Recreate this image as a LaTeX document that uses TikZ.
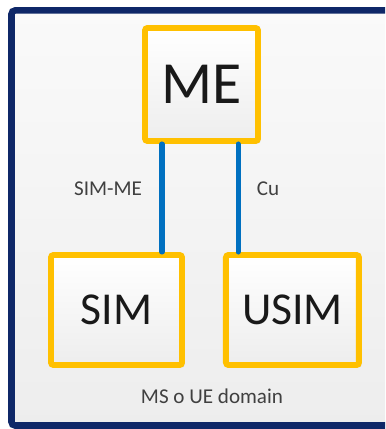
\documentclass[tikz,border=0pt]{standalone}
\usepackage{fontspec}
\setmainfont{Carlito}
\usetikzlibrary{positioning,calc,shadows}

\definecolor{frameblue}{HTML}{0F2868}
\definecolor{boxgold}{HTML}{FFC000}
\definecolor{linkblue}{HTML}{0070C0}
\definecolor{labgray}{HTML}{404040}

\begin{document}
\begin{tikzpicture}[
  backdrop/.style={top color=white!98!black, bottom color=white!93!black},
  frame/.style={draw=frameblue, line width=3.7pt, rounded corners=2pt},
  unit/.style={draw=boxgold, line width=3.4pt, rounded corners=1.5pt,
    top color=white, bottom color=white!93!black, text=black!90,
    drop shadow={opacity=0.18, shadow xshift=0.05cm, shadow yshift=-0.05cm},
    inner sep=0pt},
  link/.style={draw=linkblue, line width=2.85pt, line cap=round},
  lab/.style={font=\fontsize{12}{14}\selectfont, text=labgray}
]
\path[use as bounding box] (0,0) rectangle (7.7,8.58);

% outer domain frame, open to the right
\path[backdrop] (0.23,0.07) rectangle (7.7,8.37);
\draw[frame] (7.7,8.37) -- (0.23,8.37) -- (0.23,0.07) -- (7.7,0.07);

% units
\node[unit, minimum width=2.26cm, minimum height=2.26cm,
  font=\fontsize{34}{40}\selectfont] (ME) at (4.03,6.89) {ME};
\node[unit, minimum width=2.62cm, minimum height=2.2cm,
  font=\fontsize{26}{31}\selectfont] (SIM) at (2.33,2.38) {SIM};
\node[unit, minimum width=2.66cm, minimum height=2.2cm,
  font=\fontsize{26}{31}\selectfont, right=0.76cm of SIM] (USIM) {USIM};

% interfaces
\draw[link] ([xshift=-0.79cm]ME.south) -- ([xshift=-0.79cm]ME.south |- SIM.north);
\draw[link] ([xshift=0.73cm]ME.south) -- ([xshift=0.73cm]ME.south |- USIM.north);

\node[lab] (simme) at (2.16,4.80) {SIM-ME};
\node[lab] (cu) at (5.36,4.80) {Cu};
\node[lab] (domain) at (4.24,0.66) {MS o UE domain};
\end{tikzpicture}
\end{document}
